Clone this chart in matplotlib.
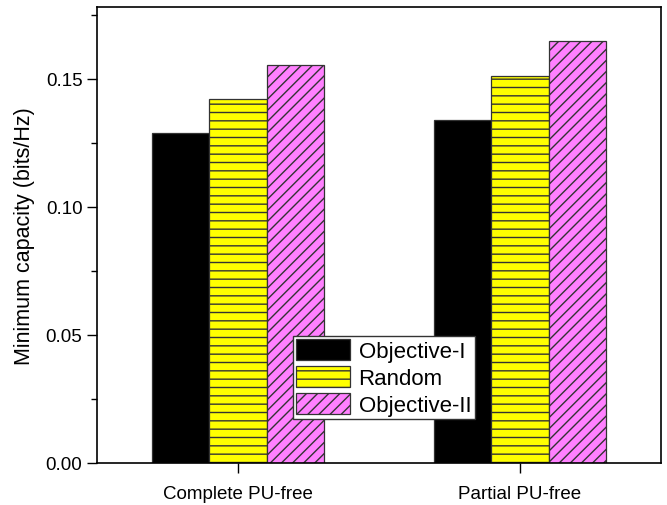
import numpy as np
import matplotlib.pyplot as plt
from matplotlib.ticker import MultipleLocator

plt.rcParams['font.family'] = ['Liberation Sans', 'DejaVu Sans']
plt.rcParams['hatch.linewidth'] = 1.0
plt.rcParams['hatch.color'] = '#222222'

scenarios = ['Complete PU-free', 'Partial PU-free']
series_names = ['Objective-I', 'Random', 'Objective-II']
objective_1 = [0.1288, 0.1340]
random_sel = [0.1422, 0.1512]
objective_2 = [0.1555, 0.1648]

fig = plt.figure(figsize=(6.67, 5.06), dpi=100)
ax = fig.add_axes([97 / 667, 1 - 464 / 506, (661 - 97) / 667, (464 - 8) / 506])

x = np.arange(len(scenarios))
w = 0.203
styles = [
    dict(color='black', hatch=None),
    dict(color='#FFFF00', hatch='--'),
    dict(color='#FF80FF', hatch='///'),
]
for i, (vals, name, st) in enumerate(zip([objective_1, random_sel, objective_2], series_names, styles)):
    ax.bar(x + (i - 1) * w, vals, width=w, color=st['color'], hatch=st['hatch'],
           edgecolor='#333333', linewidth=0.9, label=name)

ax.set_xlim(-0.5, 1.5)
ax.set_ylim(0, 0.178)
ax.set_xticks(x)
ax.set_xticklabels(scenarios, fontsize=13.5)
ax.yaxis.set_major_locator(MultipleLocator(0.05))
ax.yaxis.set_minor_locator(MultipleLocator(0.025))
ax.yaxis.set_major_formatter(plt.FormatStrFormatter('%.2f'))
ax.tick_params(axis='y', which='major', labelsize=13.5, length=7, width=1)
ax.tick_params(axis='y', which='minor', length=4, width=1)
ax.tick_params(axis='x', length=7, width=1, pad=9)
ax.set_ylabel('Minimum capacity (bits/Hz)', fontsize=15.5, labelpad=8)
for s in ax.spines.values():
    s.set_linewidth(1.2)

leg = ax.legend(loc='upper left', bbox_to_anchor=((293 - 97) / 564, (464 - 337) / 456),
                fontsize=16, fancybox=False, framealpha=1, edgecolor='#333333',
                borderpad=0.15, labelspacing=0.18, handlelength=2.4, handleheight=1.05,
                handletextpad=0.4, borderaxespad=0)
leg.get_frame().set_linewidth(1.0)

fig.savefig('out.png', dpi=100)
